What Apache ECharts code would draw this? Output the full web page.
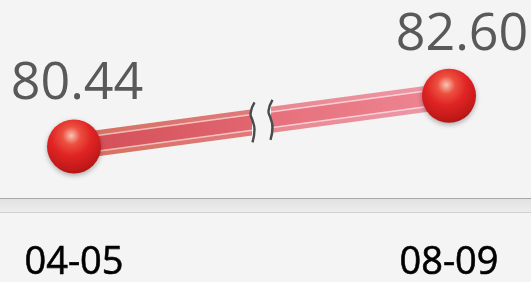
<!DOCTYPE html>
<html><head><meta charset="utf-8">
<script src="https://cdn.jsdelivr.net/npm/echarts@6/dist/echarts.min.js"></script>
<style>html,body{margin:0;padding:0;background:#f4f4f4}#c{width:531px;height:282px}</style>
</head><body><div id="c"></div>
<script>
const categories = ['04-05', '08-09'];
const values = [80.44, 82.60];
const labelTexts = ['80.44', '82.60'];

const chart = echarts.init(document.getElementById('c'), null, {renderer: 'canvas'});
const T = 'rgba(0,0,0,0)';
function alongGrad(c0, c1, c2, c3) {
  return new echarts.graphic.LinearGradient(0, 0, 1, 0, [
    {offset: 0, color: c0}, {offset: 0.476, color: c1},
    {offset: 0.476, color: T}, {offset: 0.524, color: T},
    {offset: 0.524, color: c2}, {offset: 1, color: c3}
  ]);
}
const sphere = new echarts.graphic.RadialGradient(0.45, 0.3, 0.75, [
  {offset: 0, color: '#f9c4b4'}, {offset: 0.22, color: '#ec5040'},
  {offset: 0.5, color: '#e02424'}, {offset: 0.85, color: '#c01818'}, {offset: 1, color: '#a51212'}
]);
const labelOffsets = [[3, -62], [13, -61]];
const baseLine = (w, g, z) => ({
  type: 'line', data: values, showSymbol: false, silent: true, z: z,
  lineStyle: {width: w, color: g, cap: 'butt'}
});
chart.setOption({
  animation: false,
  backgroundColor: 'transparent',
  grid: {left: 74, right: 82, top: 20, bottom: 84},
  xAxis: {
    type: 'category', data: categories, boundaryGap: false,
    axisLine: {show: false}, axisTick: {show: false}, splitLine: {show: false},
    axisLabel: {fontFamily: 'Open Sans', fontSize: 38, fontWeight: 'normal', color: '#000', margin: 55, showMinLabel: true, showMaxLabel: true,
      textBorderColor: '#000', textBorderWidth: 0.6}
  },
  yAxis: {type: 'value', min: 78.64, max: 85.83, show: false},
  series: [
    baseLine(26, alongGrad('#d4705f', '#e07a7a', '#e8888f', '#ee9aaa'), 1),
    baseLine(17, alongGrad('#f0b8b0', '#f6c6c6', '#f8ccd2', '#fad4dc'), 2),
    {
      type: 'line', data: values.map((v, i) => ({value: v, label: {offset: labelOffsets[i]}})), z: 3,
      lineStyle: {width: 14, color: alongGrad('#d24c55', '#e06670', '#e6707c', '#ee8893'), cap: 'butt'},
      symbol: 'circle', symbolSize: 54, showSymbol: true,
      itemStyle: {color: sphere, shadowBlur: 5, shadowColor: 'rgba(0,0,0,0.3)', shadowOffsetY: 2},
      label: {
        show: true, position: 'inside', fontFamily: 'Open Sans', fontSize: 52, color: '#595959',
        formatter: p => labelTexts[p.dataIndex]
      }
    }
  ]
});
const p0 = chart.convertToPixel({seriesIndex: 2}, [0, values[0]]);
const p1 = chart.convertToPixel({seriesIndex: 2}, [1, values[1]]);
const t0 = 0.476, t1 = 0.524;
const c0 = [p0[0] + (p1[0] - p0[0]) * t0, p0[1] + (p1[1] - p0[1]) * t0];
const c1 = [p0[0] + (p1[0] - p0[0]) * t1, p0[1] + (p1[1] - p0[1]) * t1];
const curvePts = [[2, -20], [-2, -9], [0, -2], [2, 7], [0, 20]];
const mkCurve = c => ({
  type: 'polyline', z: 100,
  shape: {points: curvePts.map(q => [c[0] + q[0], c[1] + q[1]]), smooth: 0.5},
  style: {stroke: '#4a4a4a', lineWidth: 2.4, fill: null}
});
chart.setOption({
  graphic: [
    {type: 'rect', z: -10, shape: {x: 0, y: 198, width: 531, height: 1}, style: {fill: '#a8a8a8'}},
    {type: 'rect', z: -10, shape: {x: 0, y: 199, width: 531, height: 13},
      style: {fill: new echarts.graphic.LinearGradient(0, 0, 0, 1, [{offset: 0, color: '#e2e2e2'}, {offset: 1, color: '#ededed'}])}},
    {type: 'rect', z: -10, shape: {x: 0, y: 212, width: 531, height: 1}, style: {fill: '#d0d0d0'}},
    mkCurve(c0), mkCurve(c1)
  ]
});
</script>
</body></html>
